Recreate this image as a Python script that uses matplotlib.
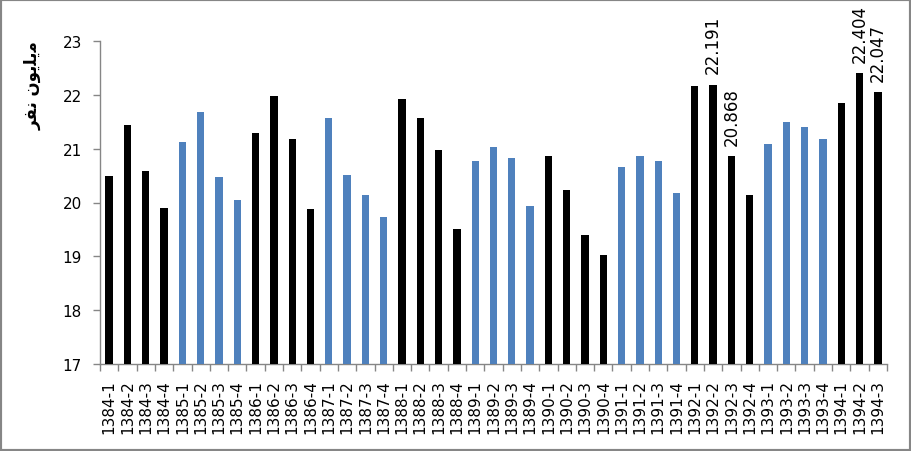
import matplotlib
matplotlib.use("Agg")
import matplotlib.pyplot as plt
from matplotlib.patches import Rectangle

years = ["1384", "1385", "1386", "1387", "1388", "1389", "1390", "1391", "1392", "1393", "1394"]
quarters = ["1", "2", "3", "4"]
categories = [f"{y}-{q}" for y in years for q in quarters][:43]

values = [20.49, 21.44, 20.59, 19.90,
          21.13, 21.68, 20.48, 20.05,
          21.29, 21.98, 21.18, 19.88,
          21.57, 20.51, 20.14, 19.73,
          21.93, 21.57, 20.98, 19.51,
          20.77, 21.03, 20.83, 19.94,
          20.87, 20.23, 19.40, 19.03,
          20.66, 20.87, 20.77, 20.18,
          22.17, 22.191, 20.868, 20.14,
          21.09, 21.50, 21.41, 21.18,
          21.85, 22.404, 22.047]

labelled = ["1392-2", "1392-3", "1394-2", "1394-3"]

# Persian "میلیون نفر" in shaped presentation forms, visual order
ylabel = "\uFEAE\uFED4\uFEE7 \uFEE5\uFEEE\uFBFE\uFEE0\uFBFE\uFEE3"

BLACK = "#000000"
BLUE = "#4F81BD"
GRAY = "#868686"

plt.rcParams["font.family"] = ["DejaVu Sans"]

fig = plt.figure(figsize=(9.11, 4.52), dpi=100)
ax = fig.add_axes([100 / 911, 1 - 365 / 452, 787 / 911, 323 / 452])

x = list(range(len(categories)))
colors = [BLACK if (years.index(c.split("-")[0]) % 2 == 0) else BLUE for c in categories]
ax.bar(x, values, width=0.4, color=colors, zorder=3)

for i, c in enumerate(categories):
    if c in labelled:
        ax.annotate(f"{values[i]:.3f}", xy=(i, values[i]), xytext=(0, 8),
                    textcoords="offset points", rotation=90, ha="center",
                    va="bottom", fontsize=12, color="#000000")

ax.set_ylim(17, 23)
ax.set_xlim(-0.5, len(categories) - 0.5)
ax.set_yticks([17, 18, 19, 20, 21, 22, 23])
ax.set_xticks(x)
ax.set_xticklabels(categories, rotation=90, fontsize=11)
ax.set_xticks([i - 0.5 for i in range(len(categories) + 1)], minor=True)
ax.tick_params(axis="x", which="major", length=0, pad=11, colors="#000000")
ax.tick_params(axis="x", which="minor", length=5, color=GRAY, width=1)
ax.tick_params(axis="y", length=5, color=GRAY, width=1, pad=8, labelsize=11,
               labelcolor="#000000")

for s in ["top", "right"]:
    ax.spines[s].set_visible(False)
for s in ["left", "bottom"]:
    ax.spines[s].set_color(GRAY)
    ax.spines[s].set_linewidth(1)

fig.text(33 / 911, 1 - 86 / 452, ylabel, rotation=90, ha="center", va="center",
         fontsize=12, fontweight="bold")

fig.patches.append(Rectangle((0, 0), 1, 1, transform=fig.transFigure,
                             fill=False, edgecolor=GRAY, linewidth=3))

fig.savefig("out.png", dpi=100)
